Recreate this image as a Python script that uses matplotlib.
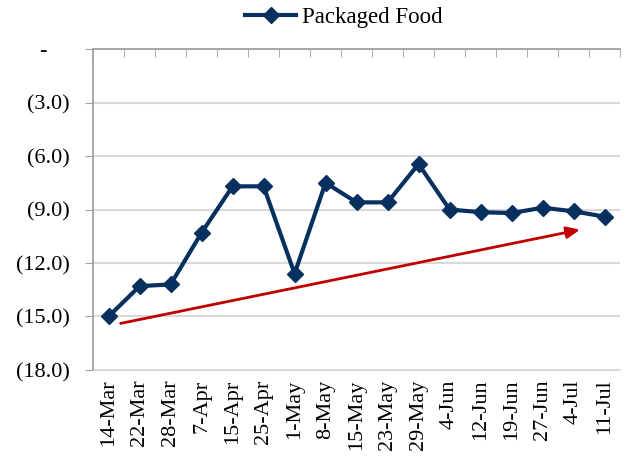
import matplotlib
matplotlib.use("Agg")
import matplotlib.pyplot as plt
import numpy as np

dates = ["14-Mar", "22-Mar", "28-Mar", "7-Apr", "15-Apr", "25-Apr", "1-May", "8-May",
         "15-May", "23-May", "29-May", "4-Jun", "12-Jun", "19-Jun", "27-Jun", "4-Jul", "11-Jul"]
values = [-15.0, -13.3, -13.2, -10.3, -7.7, -7.7, -12.6, -7.5,
          -8.6, -8.6, -6.45, -9.0, -9.15, -9.2, -8.9, -9.1, -9.4]
yticks = [0, -3, -6, -9, -12, -15, -18]
ytick_labels = ["-    ", "(3.0)", "(6.0)", "(9.0)", "(12.0)", "(15.0)", "(18.0)"]
arrow_start = (0.3, -15.42)
arrow_end = (15.3, -10.1)

plt.rcParams['font.family'] = ['Liberation Serif', 'DejaVu Serif']

fig = plt.figure(figsize=(6.25, 4.63), dpi=100)
ax = fig.add_axes([0.149, 0.201, 0.843, 0.693])

navy = '#08305e'
x = np.arange(len(dates))
ax.plot(x, values, color=navy, lw=3, marker='D', ms=8.5, label='Packaged Food', zorder=3)

ax.set_xlim(-0.5, len(dates) - 0.5)
ax.set_ylim(-18, 0)
ax.set_yticks(yticks)
ax.set_yticklabels(ytick_labels, fontsize=16)
ax.yaxis.grid(True, color='#d9d9d9', lw=1.5, zorder=0)
ax.set_axisbelow(True)

ax.set_xticks(x)
ax.set_xticklabels(dates, rotation=90, fontsize=16)
ax.set_xticks(np.arange(len(dates) + 1) - 0.5, minor=True)
ax.tick_params(axis='x', which='major', length=0, pad=7)
ax.tick_params(axis='x', which='minor', bottom=False, top=True, direction='in', length=6, color='#a0a0a0')
ax.tick_params(axis='y', length=6, color='#a0a0a0', pad=11)

ax.spines['right'].set_visible(False)
ax.spines['top'].set_color('#a0a0a0')
ax.spines['left'].set_color('#a0a0a0')
ax.spines['bottom'].set_color('#d9d9d9')
ax.spines['top'].set_linewidth(1.3)
ax.spines['left'].set_linewidth(1.3)

ax.annotate('', xy=arrow_end, xytext=arrow_start,
            arrowprops=dict(arrowstyle='-|>,head_length=0.8,head_width=0.35', color='#c00000', lw=2))

fig.legend(handles=ax.get_lines(), loc='upper center', bbox_to_anchor=(0.55, 1.03),
           frameon=False, fontsize=16.5, handlelength=2.2, handletextpad=0.25)

fig.savefig('out.png', dpi=100)
